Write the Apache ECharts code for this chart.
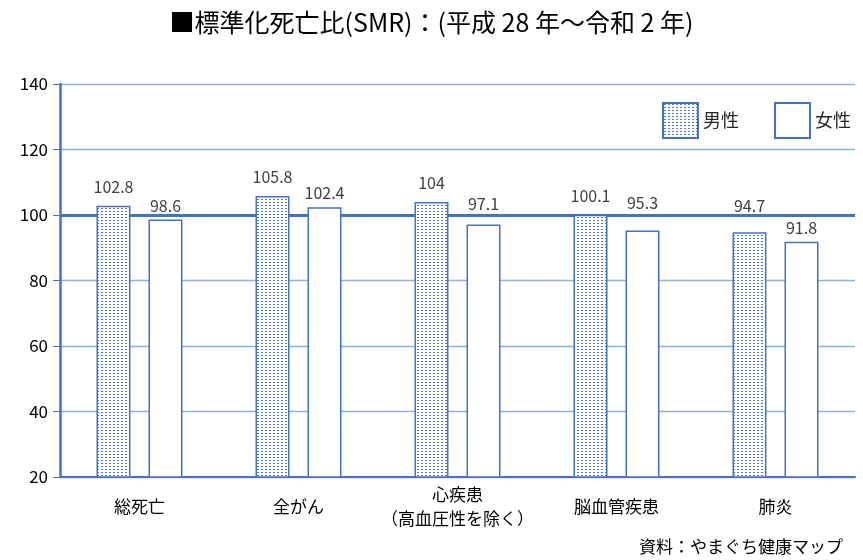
<!DOCTYPE html>
<html>
<head>
<meta charset="utf-8">
<script src="https://cdn.jsdelivr.net/npm/echarts@6/dist/echarts.min.js"></script>
<style>
  html, body { margin: 0; padding: 0; background: #fff; }
  #chart { width: 863px; height: 560px; }
</style>
</head>
<body>
<div id="chart"></div>
<script>
// 疾患別の標準化死亡比（全国=100）
const categories = ['総死亡', '全がん', '心疾患\n（高血圧性を除く）', '脳血管疾患', '肺炎'];
const maleValues = [102.8, 105.8, 104, 100.1, 94.7];
const femaleValues = [98.6, 102.4, 97.1, 95.3, 91.8];
const baseline = 100;
// 基準線と重なるラベルを上へずらす量（px）
const maleLabelLift = [0, 0, 0, 0, 7];
const femaleLabelLift = [0, 0, 7, 13, 0];

const BLUE = '#4472C4';
const FONT = '"Noto Sans CJK JP", "Noto Sans", sans-serif';

// 男性の棒に使う点描パターン
function dotPattern() {
  const c = document.createElement('canvas');
  c.width = 4; c.height = 3;
  const ctx = c.getContext('2d');
  ctx.fillStyle = '#ffffff';
  ctx.fillRect(0, 0, 4, 3);
  ctx.fillStyle = '#4a78c8';
  ctx.fillRect(1, 1, 2, 1);
  return c;
}
const maleFill = { image: dotPattern(), repeat: 'repeat' };

function withLift(values, lift) {
  return values.map((v, i) => ({ value: v, label: { offset: [0, -lift[i]] } }));
}

const chart = echarts.init(document.getElementById('chart'));
chart.setOption({
  animation: false,
  backgroundColor: '#ffffff',
  textStyle: { fontFamily: FONT },
  title: {
    text: '■標準化死亡比(SMR)：(平成 28 年～令和 2 年)',
    left: 'center',
    top: 5,
    textStyle: { fontFamily: FONT, fontSize: 25, fontWeight: 'normal', color: '#000' }
  },
  legend: {
    left: 657,
    top: 97,
    itemWidth: 35,
    itemHeight: 35,
    itemGap: 35,
    icon: 'rect',
    textStyle: { fontFamily: FONT, fontSize: 18, color: '#262626' },
    data: ['男性', '女性']
  },
  grid: { left: 60, right: 8, top: 84, bottom: 83 },
  xAxis: {
    type: 'category',
    data: categories,
    axisLine: { lineStyle: { color: BLUE, width: 2 } },
    axisTick: { show: false },
    axisLabel: {
      interval: 0,
      fontFamily: FONT, fontSize: 17, color: '#000', margin: 30,
      verticalAlign: 'middle', lineHeight: 24
    }
  },
  yAxis: {
    type: 'value',
    min: 20, max: 140, interval: 20,
    axisLine: { show: true, lineStyle: { color: BLUE, width: 2.5 } },
    axisTick: { show: true, inside: false, length: 7, lineStyle: { color: BLUE, width: 1 } },
    axisLabel: { fontFamily: FONT, fontSize: 17, color: '#000', margin: 12 },
    splitLine: { lineStyle: { color: '#8CB2E2', width: 1.3 } }
  },
  series: [
    {
      name: '男性',
      type: 'bar',
      z: 3,
      data: withLift(maleValues, maleLabelLift),
      barWidth: 34,
      barGap: '53%',
      itemStyle: { color: maleFill, borderColor: BLUE, borderWidth: 1.5 },
      label: {
        show: true, position: 'top', distance: 11,
        fontFamily: FONT, fontSize: 16, color: '#404040'
      }
    },
    {
      name: '女性',
      type: 'bar',
      z: 3,
      data: withLift(femaleValues, femaleLabelLift),
      barWidth: 34,
      itemStyle: { color: '#ffffff', borderColor: BLUE, borderWidth: 1.5 },
      label: {
        show: true, position: 'top', distance: 6,
        fontFamily: FONT, fontSize: 16, color: '#404040'
      },
      markLine: {
        silent: true,
        symbol: 'none',
        z: 1,
        label: { show: false },
        lineStyle: { color: BLUE, width: 3, type: 'solid' },
        data: [{ yAxis: baseline }]
      }
    }
  ],
  graphic: [{
    type: 'text',
    right: 20,
    top: 538,
    style: { text: '資料：やまぐち健康マップ', font: '17px ' + FONT, fill: '#000' }
  }]
});
</script>
</body>
</html>
